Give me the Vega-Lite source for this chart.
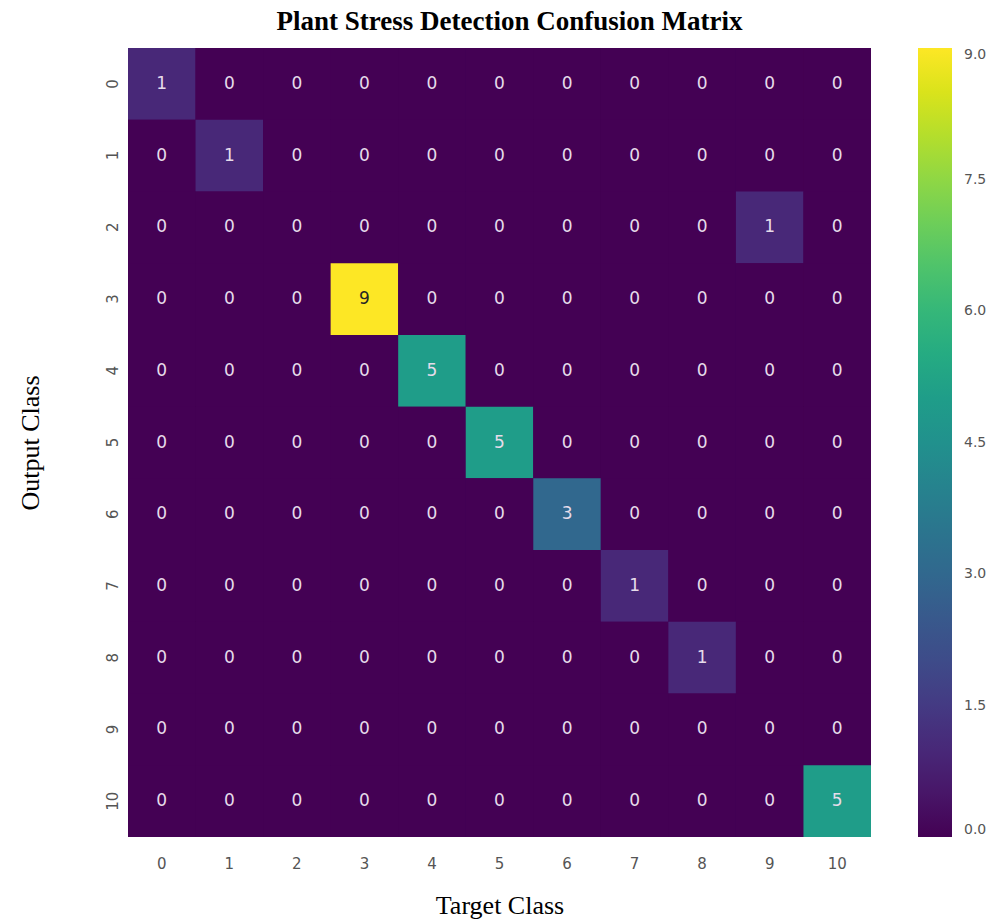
{
  "$schema": "https://vega.github.io/schema/vega-lite/v6.json",
  "width": 743,
  "height": 789,
  "autosize": {"type": "none"},
  "padding": {"left": 128, "top": 48, "right": 123, "bottom": 84},
  "background": "white",
  "config": {"view": {"stroke": null, "fill": "#440154"}, "axis": {"grid": false}},
  "title": {"text": "Plant Stress Detection Confusion Matrix", "font": "Liberation Serif", "fontSize": 27, "fontWeight": "bold", "color": "#000", "anchor": "middle", "dx": 10, "offset": 12},
  "data": {"values": [
    {"o":0,"t":0,"v":1},{"o":0,"t":1,"v":0},{"o":0,"t":2,"v":0},{"o":0,"t":3,"v":0},{"o":0,"t":4,"v":0},{"o":0,"t":5,"v":0},{"o":0,"t":6,"v":0},{"o":0,"t":7,"v":0},{"o":0,"t":8,"v":0},{"o":0,"t":9,"v":0},{"o":0,"t":10,"v":0},
    {"o":1,"t":0,"v":0},{"o":1,"t":1,"v":1},{"o":1,"t":2,"v":0},{"o":1,"t":3,"v":0},{"o":1,"t":4,"v":0},{"o":1,"t":5,"v":0},{"o":1,"t":6,"v":0},{"o":1,"t":7,"v":0},{"o":1,"t":8,"v":0},{"o":1,"t":9,"v":0},{"o":1,"t":10,"v":0},
    {"o":2,"t":0,"v":0},{"o":2,"t":1,"v":0},{"o":2,"t":2,"v":0},{"o":2,"t":3,"v":0},{"o":2,"t":4,"v":0},{"o":2,"t":5,"v":0},{"o":2,"t":6,"v":0},{"o":2,"t":7,"v":0},{"o":2,"t":8,"v":0},{"o":2,"t":9,"v":1},{"o":2,"t":10,"v":0},
    {"o":3,"t":0,"v":0},{"o":3,"t":1,"v":0},{"o":3,"t":2,"v":0},{"o":3,"t":3,"v":9},{"o":3,"t":4,"v":0},{"o":3,"t":5,"v":0},{"o":3,"t":6,"v":0},{"o":3,"t":7,"v":0},{"o":3,"t":8,"v":0},{"o":3,"t":9,"v":0},{"o":3,"t":10,"v":0},
    {"o":4,"t":0,"v":0},{"o":4,"t":1,"v":0},{"o":4,"t":2,"v":0},{"o":4,"t":3,"v":0},{"o":4,"t":4,"v":5},{"o":4,"t":5,"v":0},{"o":4,"t":6,"v":0},{"o":4,"t":7,"v":0},{"o":4,"t":8,"v":0},{"o":4,"t":9,"v":0},{"o":4,"t":10,"v":0},
    {"o":5,"t":0,"v":0},{"o":5,"t":1,"v":0},{"o":5,"t":2,"v":0},{"o":5,"t":3,"v":0},{"o":5,"t":4,"v":0},{"o":5,"t":5,"v":5},{"o":5,"t":6,"v":0},{"o":5,"t":7,"v":0},{"o":5,"t":8,"v":0},{"o":5,"t":9,"v":0},{"o":5,"t":10,"v":0},
    {"o":6,"t":0,"v":0},{"o":6,"t":1,"v":0},{"o":6,"t":2,"v":0},{"o":6,"t":3,"v":0},{"o":6,"t":4,"v":0},{"o":6,"t":5,"v":0},{"o":6,"t":6,"v":3},{"o":6,"t":7,"v":0},{"o":6,"t":8,"v":0},{"o":6,"t":9,"v":0},{"o":6,"t":10,"v":0},
    {"o":7,"t":0,"v":0},{"o":7,"t":1,"v":0},{"o":7,"t":2,"v":0},{"o":7,"t":3,"v":0},{"o":7,"t":4,"v":0},{"o":7,"t":5,"v":0},{"o":7,"t":6,"v":0},{"o":7,"t":7,"v":1},{"o":7,"t":8,"v":0},{"o":7,"t":9,"v":0},{"o":7,"t":10,"v":0},
    {"o":8,"t":0,"v":0},{"o":8,"t":1,"v":0},{"o":8,"t":2,"v":0},{"o":8,"t":3,"v":0},{"o":8,"t":4,"v":0},{"o":8,"t":5,"v":0},{"o":8,"t":6,"v":0},{"o":8,"t":7,"v":0},{"o":8,"t":8,"v":1},{"o":8,"t":9,"v":0},{"o":8,"t":10,"v":0},
    {"o":9,"t":0,"v":0},{"o":9,"t":1,"v":0},{"o":9,"t":2,"v":0},{"o":9,"t":3,"v":0},{"o":9,"t":4,"v":0},{"o":9,"t":5,"v":0},{"o":9,"t":6,"v":0},{"o":9,"t":7,"v":0},{"o":9,"t":8,"v":0},{"o":9,"t":9,"v":0},{"o":9,"t":10,"v":0},
    {"o":10,"t":0,"v":0},{"o":10,"t":1,"v":0},{"o":10,"t":2,"v":0},{"o":10,"t":3,"v":0},{"o":10,"t":4,"v":0},{"o":10,"t":5,"v":0},{"o":10,"t":6,"v":0},{"o":10,"t":7,"v":0},{"o":10,"t":8,"v":0},{"o":10,"t":9,"v":0},{"o":10,"t":10,"v":5}
  ]},
  "encoding": {
    "x": {"field": "t", "type": "ordinal", "scale": {"paddingInner": 0, "paddingOuter": 0},
      "axis": {"title": "Target Class", "titleFont": "Liberation Serif", "titleFontSize": 26, "titleFontWeight": "normal", "titleColor": "#000", "titleY": 68, "titleBaseline": "middle",
        "labelAngle": 0, "labelFont": "DejaVu Sans", "labelFontSize": 15, "labelColor": "#555", "labelPadding": 19, "ticks": false, "domain": false, "grid": false}},
    "y": {"field": "o", "type": "ordinal", "scale": {"paddingInner": 0, "paddingOuter": 0},
      "axis": {"title": "Output Class", "titleFont": "Liberation Serif", "titleFontSize": 26, "titleFontWeight": "normal", "titleColor": "#000", "titleX": -98, "titleY": 394.5, "titleAngle": -90, "titleBaseline": "middle", "titleAlign": "center",
        "labelAngle": -90, "labelAlign": "center", "labelBaseline": "bottom", "labelFont": "DejaVu Sans", "labelFontSize": 15, "labelColor": "#555", "labelPadding": 8, "ticks": false, "domain": false, "grid": false}}
  },
  "layer": [
    {
      "mark": {"type": "rect"},
      "encoding": {
        "color": {"field": "v", "type": "quantitative", "scale": {"scheme": "viridis", "domain": [0, 9]},
          "legend": {"orient": "none", "legendX": 790, "legendY": 0, "title": null, "gradientLength": 789, "gradientThickness": 34, "gradientStrokeWidth": 0,
            "values": [0, 1.5, 3, 4.5, 6, 7.5, 9], "format": ".1f", "labelFont": "DejaVu Sans", "labelFontSize": 14, "labelColor": "#555", "labelOffset": 12, "direction": "vertical"}}
      }
    },
    {
      "mark": {"type": "text", "font": "DejaVu Sans", "fontSize": 17},
      "encoding": {
        "text": {"field": "v", "type": "quantitative"},
        "color": {"condition": {"test": "datum.v > 6", "value": "#262626"}, "value": "#e6dcea"}
      }
    }
  ]
}
